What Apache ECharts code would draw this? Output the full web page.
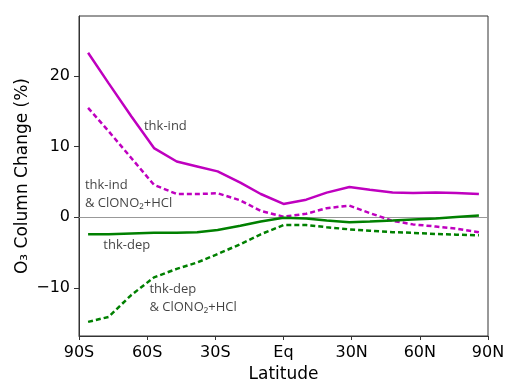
<!DOCTYPE html>
<html>
<head>
<meta charset="utf-8">
<script src="https://cdn.jsdelivr.net/npm/echarts@6/dist/echarts.min.js"></script>
<style>
  html, body { margin: 0; padding: 0; background: #fff; }
  #chart { width: 506px; height: 380px; }
</style>
</head>
<body>
<div id="chart"></div>
<script>
// latitudes of the model points (deg, S negative)
const lats = [-86, -77, -67, -57, -47, -38, -29, -19, -10, 0, 10, 19, 29, 38, 48, 57, 67, 76, 86]

// O3 column change (%)
const thkInd = [23.3, 19.0, 14.3, 9.8, 7.9, 7.2, 6.5, 4.9, 3.3, 1.9, 2.5, 3.5, 4.3, 3.9, 3.5, 3.45, 3.5, 3.45, 3.3]
const thkIndCl = [15.5, 12.2, 8.4, 4.6, 3.3, 3.3, 3.4, 2.4, 0.9, 0.1, 0.5, 1.3, 1.65, 0.6, -0.5, -1.0, -1.3, -1.6, -2.1]
const thkDep = [-2.4, -2.4, -2.3, -2.2, -2.2, -2.1, -1.8, -1.2, -0.6, -0.05, -0.15, -0.45, -0.7, -0.6, -0.45, -0.3, -0.15, 0.05, 0.25]
const thkDepCl = [-14.8, -14.1, -11.0, -8.5, -7.3, -6.4, -5.2, -3.8, -2.4, -1.1, -1.1, -1.4, -1.7, -1.9, -2.1, -2.2, -2.35, -2.45, -2.55]

const MAGENTA = '#bf00bf'
const GREEN = '#008000'
const FONT = 'DejaVu Sans'

const pairs = (ys) => lats.map((x, i) => [x, ys[i]])

const latLabel = (v) => (v === 0 ? 'Eq' : v < 0 ? -v + 'S' : v + 'N')

// text notes next to the curves: [lat, value, text] (value = middle of text block)
const notes = [
  [-61.4, 12.9, 'thk-ind'],
  [-87.4, 3.3, 'thk-ind\n& ClONO₂+HCl'],
  [-79.3, -3.9, 'thk-dep'],
  [-59, -11.5, 'thk-dep\n& ClONO₂+HCl']
]

const lineSeries = (name, ys, color, dashed) => ({
  name,
  type: 'line',
  data: pairs(ys),
  showSymbol: false,
  symbol: 'none',
  silent: true,
  lineStyle: {
    color,
    width: 2.5,
    type: dashed ? [5, 3] : 'solid'
  },
  z: 3
})

const chart = echarts.init(document.getElementById('chart'), null, { renderer: 'canvas' })

const option = {
  animation: false,
  grid: {
    left: 79,
    right: 18,
    top: 16,
    bottom: 44,
    containLabel: false,
    outerBoundsMode: 'none',
    show: true,
    borderColor: '#333',
    borderWidth: 1
  },
  xAxis: {
    type: 'value',
    min: -90,
    max: 90,
    interval: 30,
    name: 'Latitude',
    nameLocation: 'middle',
    nameGap: 27,
    nameTextStyle: { fontFamily: FONT, fontSize: 17, color: '#000' },
    axisLine: { show: true, onZero: false, lineStyle: { color: '#333', width: 1 } },
    axisTick: { show: true, inside: false, length: 4, lineStyle: { color: '#333' } },
    axisLabel: {
      formatter: latLabel,
      fontFamily: FONT,
      fontSize: 16,
      color: '#000',
      margin: 9
    },
    splitLine: { show: false }
  },
  yAxis: {
    type: 'value',
    min: -16.8,
    max: 28.5,
    name: 'O₃ Column Change (%)',
    nameLocation: 'middle',
    nameGap: 48,
    nameMoveOverlap: false,
    nameTextStyle: { fontFamily: FONT, fontSize: 17, color: '#000' },
    axisLine: { show: true, onZero: false, lineStyle: { color: '#333', width: 1 } },
    axisTick: { show: true, inside: false, length: 5, lineStyle: { color: '#333' } },
    axisLabel: {
      showMinLabel: false,
      showMaxLabel: false,
      formatter: (v) => (v < 0 ? '−' + -v : '' + v),
      fontFamily: FONT,
      fontSize: 16,
      color: '#000',
      margin: 9
    },
    splitLine: { show: false }
  },
  series: [
    lineSeries('thk-ind', thkInd, MAGENTA, false),
    lineSeries('thk-ind & ClONO2+HCl', thkIndCl, MAGENTA, true),
    {
      ...lineSeries('thk-dep', thkDep, GREEN, false),
      markLine: {
        silent: true,
        symbol: 'none',
        label: { show: false },
        lineStyle: { color: '#999', width: 1, type: 'solid' },
        data: [{ yAxis: 0 }],
        z: 1
      }
    },
    lineSeries('thk-dep & ClONO2+HCl', thkDepCl, GREEN, true),
    {
      type: 'scatter',
      silent: true,
      symbolSize: 0,
      data: notes.map((n) => ({ value: [n[0], n[1]], text: n[2] })),
      label: {
        show: true,
        position: 'right',
        distance: 0,
        align: 'left',
        formatter: (p) => p.data.text,
        fontFamily: 'Open Sans',
        fontSize: 13,
        lineHeight: 18,
        color: '#111'
      },
      z: 4
    }
  ]
}

chart.setOption(option)
</script>
</body>
</html>
